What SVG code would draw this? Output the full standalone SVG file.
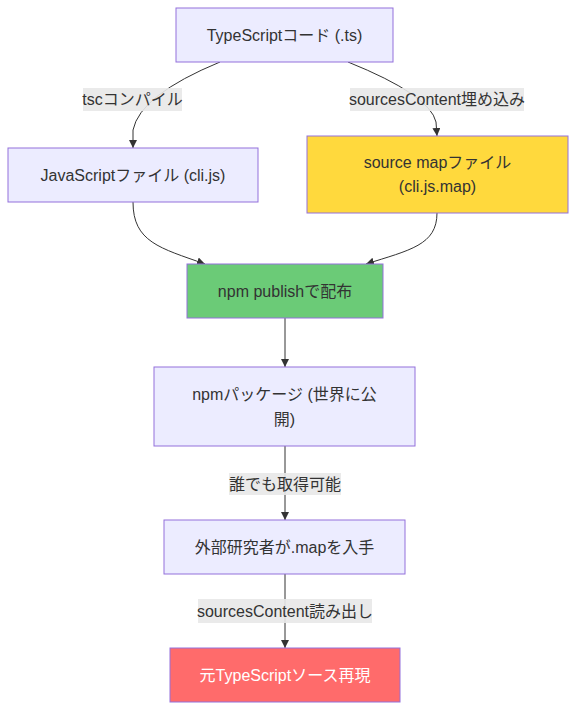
<svg xmlns="http://www.w3.org/2000/svg" width="576" height="710" viewBox="0 0 576 710">
<defs>
<marker id="arr" viewBox="0 0 10 10" refX="10" refY="5" markerWidth="8" markerHeight="8" markerUnits="userSpaceOnUse" orient="auto">
<path d="M0,0 L10,5 L0,10 z" fill="#333"/>
</marker>
<style>
.node rect{fill:#ECECFF;stroke:#9370DB;stroke-width:1}
.t{font-family:"Liberation Sans","Noto Sans CJK JP",sans-serif;font-size:16px;fill:#333;text-anchor:middle;dominant-baseline:central}
.e{fill:none;stroke:#333;stroke-width:1;marker-end:url(#arr)}
.lb{fill:#e8e8e8;opacity:0.9}
</style>
</defs>
<rect width="576" height="710" fill="#fff"/>
<g id="edges">
<path class="e" d="M220,62 Q140,95 133,130 L133,148"/>
<path class="e" d="M348,62 Q430,95 436,122 L437,136"/>
<path class="e" d="M133,202 C133,242 160,248 205,264"/>
<path class="e" d="M437,213 C437,245 410,250 366,264"/>
<path class="e" d="M285,318 L285,367"/>
<path class="e" d="M285,446 L285,520"/>
<path class="e" d="M285,574 L285,648"/>
</g>
<g id="edge-labels">
<rect class="lb" x="83" y="88" width="99" height="23"/>
<text class="t" x="132.5" y="99.5">tscコンパイル</text>
<rect class="lb" x="350" y="88" width="174" height="23"/>
<text class="t" x="437" y="99.5">sourcesContent埋め込み</text>
<rect class="lb" x="229" y="473" width="112" height="22"/>
<text class="t" x="285" y="484">誰でも取得可能</text>
<rect class="lb" x="198" y="599" width="174" height="24"/>
<text class="t" x="285" y="611">sourcesContent読み出し</text>
</g>
<g id="A" class="node">
<rect x="176" y="8" width="217" height="54"/>
<text class="t" x="284.5" y="35">TypeScriptコード (.ts)</text>
</g>
<g id="B" class="node">
<rect x="8" y="148" width="250" height="54"/>
<text class="t" x="133" y="175">JavaScriptファイル (cli.js)</text>
</g>
<g id="C" class="node">
<rect x="307" y="136" width="261" height="77" style="fill:#FFD93D"/>
<text class="t" x="437.5" y="162">source mapファイル</text>
<text class="t" x="437.5" y="186">(cli.js.map)</text>
</g>
<g id="D" class="node">
<rect x="187" y="264" width="196" height="54" style="fill:#6BCB77"/>
<text class="t" x="285" y="291">npm publishで配布</text>
</g>
<g id="E" class="node">
<rect x="154" y="367" width="261" height="79"/>
<text class="t" x="284.5" y="394">npmパッケージ (世界に公</text>
<text class="t" x="284.5" y="419">開)</text>
</g>
<g id="F" class="node">
<rect x="164" y="520" width="241" height="54"/>
<text class="t" x="284.5" y="547">外部研究者が.mapを入手</text>
</g>
<g id="G" class="node">
<rect x="170" y="648" width="230" height="54" style="fill:#FF6B6B"/>
<text class="t" x="285" y="675" style="fill:#fff">元TypeScriptソース再現</text>
</g>
</svg>
